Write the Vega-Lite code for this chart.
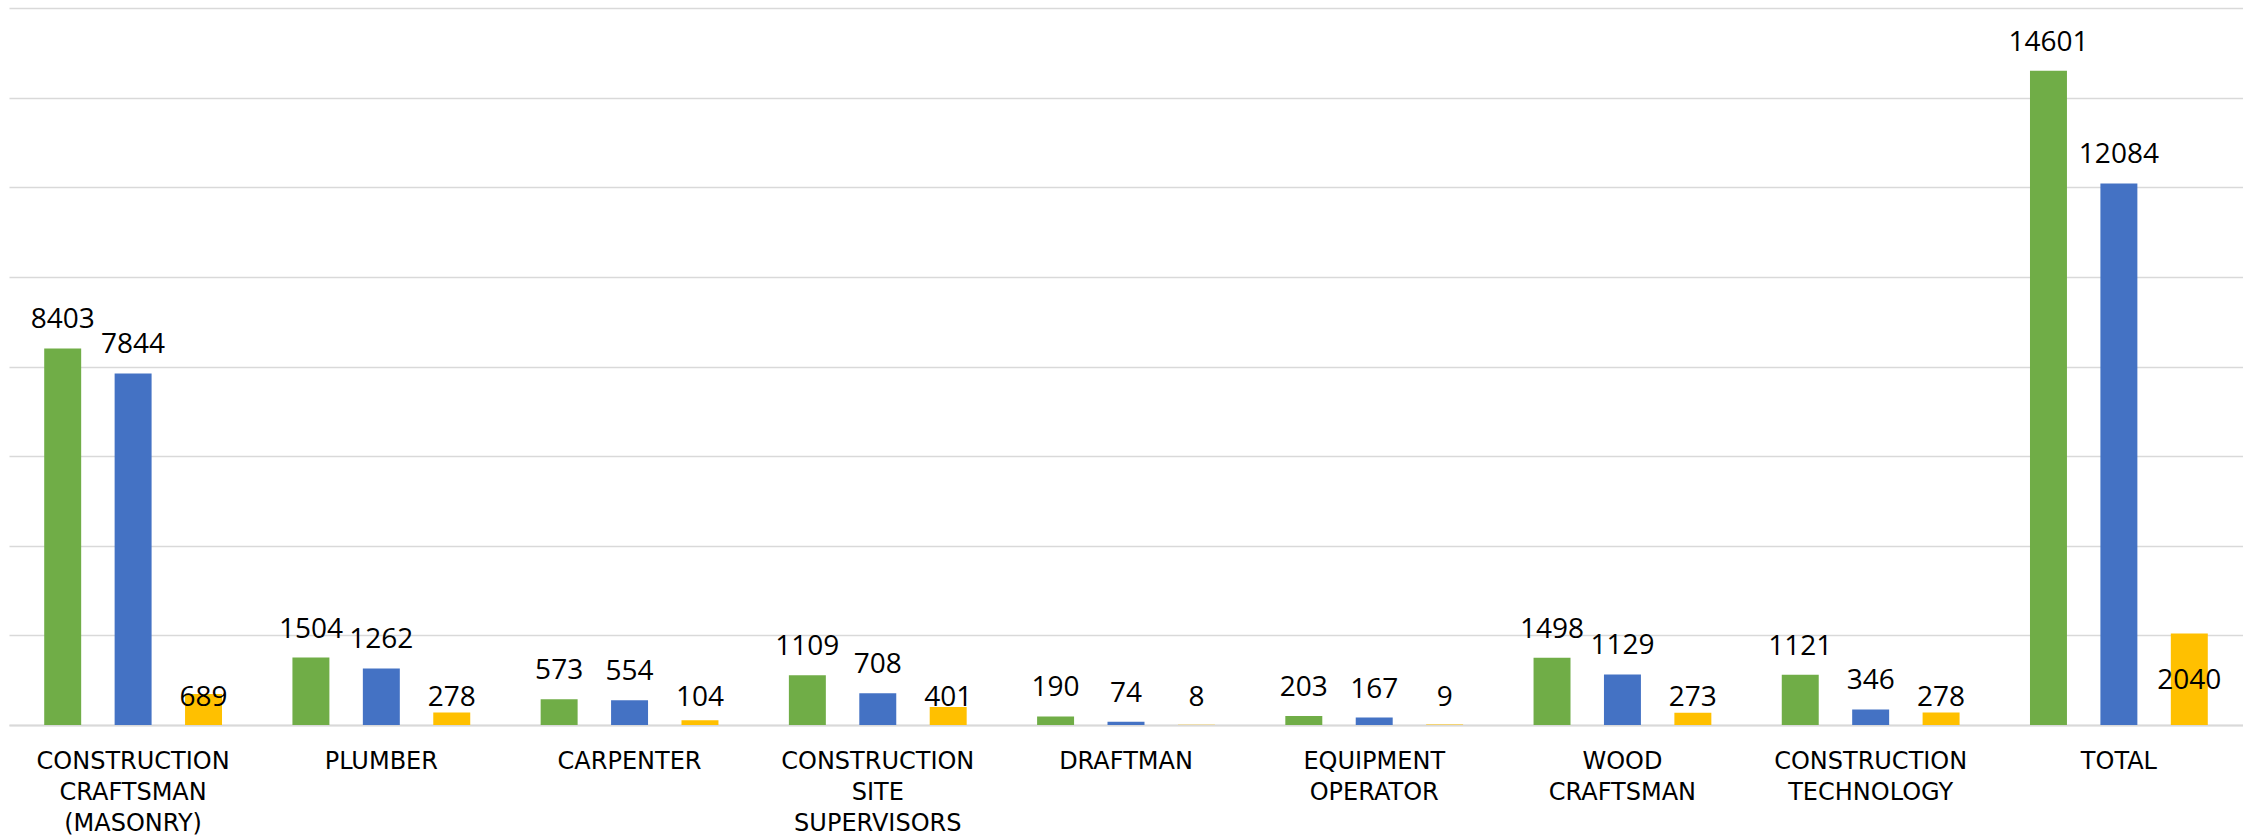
{
  "$schema": "https://vega.github.io/schema/vega-lite/v6.json",
  "autosize": {"type": "none"},
  "padding": {"left": 9, "top": 8, "right": 0, "bottom": 115},
  "width": 2234,
  "height": 717,
  "background": "white",
  "config": {"view": {"stroke": null}},
  "data": {
    "values": [
      {"category": "CONSTRUCTION CRAFTSMAN (MASONRY)", "series": "Series 1", "value": 8403},
      {"category": "CONSTRUCTION CRAFTSMAN (MASONRY)", "series": "Series 2", "value": 7844},
      {"category": "CONSTRUCTION CRAFTSMAN (MASONRY)", "series": "Series 3", "value": 689},
      {"category": "PLUMBER", "series": "Series 1", "value": 1504},
      {"category": "PLUMBER", "series": "Series 2", "value": 1262},
      {"category": "PLUMBER", "series": "Series 3", "value": 278},
      {"category": "CARPENTER", "series": "Series 1", "value": 573},
      {"category": "CARPENTER", "series": "Series 2", "value": 554},
      {"category": "CARPENTER", "series": "Series 3", "value": 104},
      {"category": "CONSTRUCTION SITE SUPERVISORS", "series": "Series 1", "value": 1109},
      {"category": "CONSTRUCTION SITE SUPERVISORS", "series": "Series 2", "value": 708},
      {"category": "CONSTRUCTION SITE SUPERVISORS", "series": "Series 3", "value": 401},
      {"category": "DRAFTMAN", "series": "Series 1", "value": 190},
      {"category": "DRAFTMAN", "series": "Series 2", "value": 74},
      {"category": "DRAFTMAN", "series": "Series 3", "value": 8},
      {"category": "EQUIPMENT OPERATOR", "series": "Series 1", "value": 203},
      {"category": "EQUIPMENT OPERATOR", "series": "Series 2", "value": 167},
      {"category": "EQUIPMENT OPERATOR", "series": "Series 3", "value": 9},
      {"category": "WOOD CRAFTSMAN", "series": "Series 1", "value": 1498},
      {"category": "WOOD CRAFTSMAN", "series": "Series 2", "value": 1129},
      {"category": "WOOD CRAFTSMAN", "series": "Series 3", "value": 273},
      {"category": "CONSTRUCTION TECHNOLOGY", "series": "Series 1", "value": 1121},
      {"category": "CONSTRUCTION TECHNOLOGY", "series": "Series 2", "value": 346},
      {"category": "CONSTRUCTION TECHNOLOGY", "series": "Series 3", "value": 278},
      {"category": "TOTAL", "series": "Series 1", "value": 14601},
      {"category": "TOTAL", "series": "Series 2", "value": 12084},
      {"category": "TOTAL", "series": "Series 3", "value": 2040}
    ]
  },
  "encoding": {
    "x": {
      "field": "category",
      "type": "nominal",
      "sort": null,
      "scale": {"paddingInner": 0, "paddingOuter": 0},
      "axis": {
        "title": null,
        "ticks": false,
        "domain": true,
        "domainColor": "#d9d9d9",
        "domainWidth": 2,
        "labelAngle": 0,
        "labelFont": "DejaVu Sans",
        "labelFontSize": 24,
        "labelColor": "#000000",
        "labelPadding": 24,
        "labelLineHeight": 31,
        "labelLimit": 0,
        "labelOverlap": false,
        "labelBound": false,
        "labelExpr": "split(datum.value, ' ')"
      }
    },
    "xOffset": {
      "field": "series",
      "type": "nominal",
      "sort": null,
      "scale": {"paddingInner": 0.475, "paddingOuter": 0.5}
    }
  },
  "layer": [
    {
      "mark": {"type": "bar"},
      "encoding": {
        "y": {
          "field": "value",
          "type": "quantitative",
          "scale": {"domain": [0, 16000], "nice": false},
          "axis": {
            "title": null,
            "labels": false,
            "ticks": false,
            "domain": false,
            "grid": true,
            "gridColor": "#d9d9d9",
            "gridWidth": 1.3,
            "values": [0, 2000, 4000, 6000, 8000, 10000, 12000, 14000, 16000]
          }
        },
        "color": {
          "field": "series",
          "type": "nominal",
          "sort": null,
          "scale": {"domain": ["Series 1", "Series 2", "Series 3"], "range": ["#70ad47", "#4472c4", "#ffc000"]},
          "legend": null
        }
      }
    },
    {
      "transform": [{"filter": "datum.series != 'Series 3'"}],
      "mark": {"type": "text", "font": "Open Sans", "fontSize": 28, "baseline": "alphabetic", "dy": -20, "color": "#000000"},
      "encoding": {
        "y": {"field": "value", "type": "quantitative"},
        "text": {"field": "value", "type": "quantitative"}
      }
    },
    {
      "transform": [{"filter": "datum.series == 'Series 3'"}],
      "mark": {
        "type": "text",
        "font": "Open Sans",
        "fontSize": 28,
        "baseline": "alphabetic",
        "color": "#000000",
        "y": {"expr": "min(scale('y', datum.value / 2) + 10, scale('y', 0) - 19)"}
      },
      "encoding": {
        "text": {"field": "value", "type": "quantitative"}
      }
    }
  ]
}
